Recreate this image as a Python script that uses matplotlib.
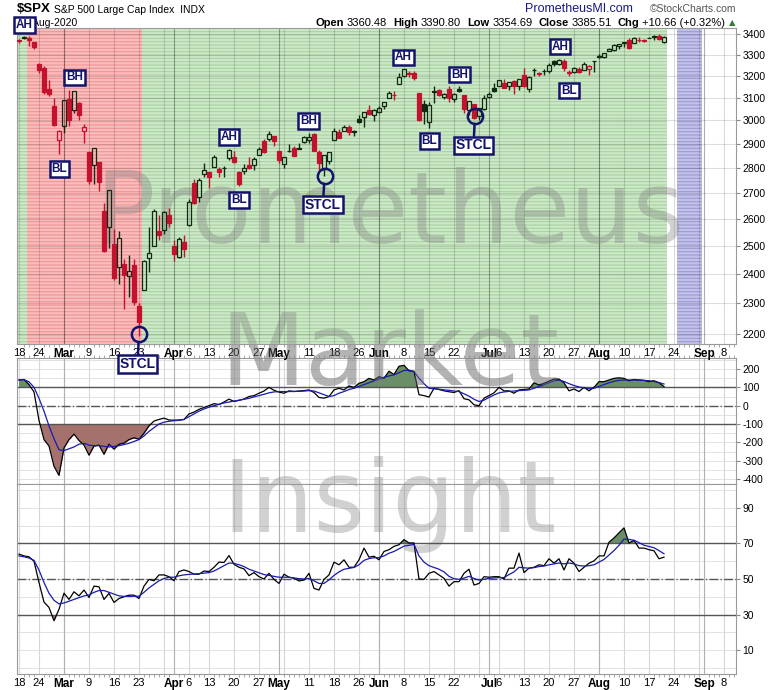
import matplotlib
matplotlib.use('Agg')
import matplotlib.pyplot as plt
import numpy as np

plt.rcParams['font.family'] = ['Liberation Sans', 'DejaVu Sans']
plt.rcParams['hatch.linewidth'] = 0.8
plt.rcParams['axes.unicode_minus'] = False

# S&P 500 daily bars, 18-Feb-2020 .. 20-Aug-2020
opens = [3369.04, 3380.39, 3380.45, 3360.50, 3257.61, 3238.94, 3139.90, 3062.54, 2916.90,
         2974.28, 3096.46, 3045.75, 3075.70, 2954.20, 2863.89, 2813.48, 2825.60, 2630.86, 2569.99, 2508.59,
         2425.66, 2436.50, 2393.48, 2431.94, 2290.71, 2344.44, 2457.77, 2501.29, 2555.87, 2558.98, 2614.69,
         2498.08, 2458.54, 2514.92, 2578.28, 2738.65, 2685.00, 2776.99, 2782.46, 2805.10, 2795.64, 2799.34,
         2842.43, 2845.62, 2784.81, 2787.89, 2810.42, 2812.64, 2854.65, 2909.96, 2918.46, 2930.91,
         2869.09, 2815.01, 2868.88, 2883.14, 2878.26, 2908.83, 2915.46, 2939.50, 2865.86, 2794.54, 2829.95,
         2913.86, 2948.59, 2953.63, 2969.95, 2948.05, 3004.08, 3015.65, 3046.61, 3025.17,
         3038.78, 3064.78, 3098.90, 3111.56, 3163.84, 3199.92, 3213.32, 3213.42, 3123.53, 3071.04, 2993.76,
         3131.00, 3136.13, 3101.64, 3140.29, 3094.42, 3138.70, 3114.40, 3046.60, 3073.20, 3018.59, 3050.20,
         3105.92, 3143.64, 3155.29, 3166.44, 3153.07, 3176.17, 3152.47, 3205.08, 3141.11, 3225.98, 3208.36,
         3224.21, 3224.29, 3268.52, 3254.86, 3271.64, 3218.58, 3219.84, 3234.27, 3227.22, 3231.76, 3270.45,
         3288.26, 3289.92, 3317.37, 3323.17, 3340.05, 3356.04, 3370.34, 3355.46, 3372.95, 3368.66, 3380.86,
         3387.04, 3392.51, 3360.48]
highs = [3375.01, 3393.52, 3389.15, 3360.76, 3259.81, 3246.99, 3182.51, 3097.07, 2959.72,
         3090.96, 3136.72, 3130.97, 3083.04, 2985.93, 2863.89, 2882.59, 2825.60, 2660.95, 2711.33, 2562.98,
         2553.93, 2453.57, 2466.97, 2453.01, 2300.73, 2449.71, 2571.42, 2637.01, 2615.91, 2631.80, 2641.39,
         2522.75, 2533.22, 2538.18, 2676.85, 2756.89, 2760.75, 2818.57, 2782.46, 2851.85, 2801.88, 2806.51,
         2879.22, 2868.98, 2785.54, 2815.10, 2844.90, 2842.71, 2887.72, 2921.15, 2954.86, 2930.91,
         2869.09, 2844.24, 2898.23, 2891.11, 2901.92, 2932.16, 2944.25, 2945.82, 2874.14, 2852.80, 2865.01,
         2968.09, 2964.21, 2980.29, 2978.50, 2956.76, 3021.72, 3036.25, 3068.67, 3049.17,
         3062.18, 3081.07, 3130.94, 3128.91, 3211.72, 3233.13, 3222.71, 3223.27, 3123.53, 3088.42, 3079.76,
         3153.45, 3141.16, 3120.00, 3155.53, 3120.92, 3154.90, 3115.01, 3086.25, 3073.73, 3053.89, 3111.51,
         3128.44, 3165.81, 3182.59, 3184.15, 3171.80, 3179.78, 3186.82, 3235.32, 3200.95, 3238.28, 3220.39,
         3233.52, 3258.61, 3277.29, 3279.32, 3279.99, 3227.26, 3241.43, 3243.72, 3264.74, 3250.92, 3272.17,
         3302.73, 3306.84, 3330.77, 3351.03, 3352.54, 3363.29, 3381.01, 3387.89, 3387.24, 3378.51, 3387.59,
         3395.06, 3399.54, 3390.80]
lows = [3355.61, 3378.83, 3341.02, 3328.45, 3214.65, 3118.77, 3108.99, 2977.39, 2855.84,
        2945.19, 2976.63, 3034.38, 2999.83, 2901.54, 2734.43, 2734.00, 2707.22, 2478.86, 2492.37, 2380.94,
        2367.04, 2280.52, 2319.78, 2295.56, 2191.86, 2344.44, 2407.53, 2500.72, 2520.02, 2545.28, 2571.15,
        2447.49, 2455.79, 2459.96, 2574.57, 2657.67, 2663.30, 2762.36, 2721.17, 2805.10, 2761.54, 2764.32,
        2830.88, 2820.43, 2727.10, 2775.95, 2794.26, 2791.76, 2852.89, 2860.71, 2912.16, 2892.47,
        2821.61, 2797.85, 2863.55, 2847.65, 2876.48, 2902.88, 2903.44, 2869.59, 2793.15, 2766.64, 2816.78,
        2913.86, 2922.35, 2953.63, 2938.57, 2933.59, 2988.17, 2969.75, 3023.40, 2998.61,
        3031.54, 3051.64, 3098.90, 3090.41, 3163.84, 3196.00, 3193.11, 3181.49, 2999.49, 2984.47, 2965.66,
        3076.06, 3108.03, 3093.51, 3083.11, 3079.39, 3127.12, 3032.13, 3024.01, 3004.63, 2999.74, 3047.83,
        3101.17, 3124.52, 3155.29, 3142.93, 3136.53, 3115.70, 3136.22, 3149.43, 3127.66, 3200.76, 3198.59,
        3205.65, 3215.16, 3247.77, 3253.10, 3222.66, 3200.05, 3214.25, 3216.17, 3227.22, 3204.13, 3220.26,
        3284.53, 3286.37, 3317.37, 3318.14, 3328.72, 3335.44, 3326.44, 3355.46, 3363.35, 3361.64, 3379.22,
        3370.15, 3369.66, 3354.69]
closes = [3370.29, 3386.15, 3373.23, 3337.75, 3225.89, 3128.21, 3116.39, 2978.76, 2954.22,
          3090.23, 3003.37, 3130.12, 3023.94, 2972.37, 2746.56, 2882.23, 2741.38, 2480.64, 2711.02, 2386.13,
          2529.19, 2398.10, 2409.39, 2304.92, 2237.40, 2447.33, 2475.56, 2630.07, 2541.47, 2626.65, 2584.59,
          2470.50, 2526.90, 2488.65, 2663.68, 2659.41, 2749.98, 2789.82, 2761.63, 2846.06, 2783.36, 2799.55,
          2874.56, 2823.16, 2736.56, 2799.31, 2797.80, 2836.74, 2878.48, 2863.39, 2939.51, 2912.43,
          2830.71, 2842.74, 2868.44, 2848.42, 2881.19, 2929.80, 2930.32, 2870.12, 2820.00, 2852.50, 2863.70,
          2953.91, 2922.94, 2971.61, 2948.51, 2955.45, 2991.77, 3036.13, 3029.73, 3044.31,
          3055.73, 3080.82, 3122.87, 3112.35, 3193.93, 3232.39, 3207.18, 3190.14, 3002.10, 3041.31, 3066.59,
          3124.74, 3113.49, 3115.34, 3097.74, 3117.86, 3131.29, 3050.33, 3083.76, 3009.05, 3053.24, 3100.29,
          3115.86, 3130.01, 3179.72, 3145.32, 3169.94, 3152.05, 3185.04, 3155.22, 3197.52, 3226.56, 3215.57,
          3224.73, 3251.84, 3257.30, 3276.02, 3235.66, 3215.63, 3239.41, 3218.44, 3258.44, 3246.22, 3271.12,
          3294.61, 3306.51, 3327.77, 3349.16, 3351.28, 3360.47, 3333.69, 3380.35, 3373.43, 3372.85, 3381.99,
          3389.78, 3374.85, 3385.51]
prev_close = 3380.16  # 14-Feb close, colours the first bar

# middle panel (CCI-style oscillator) and its signal line
cci = [140, 143, 115, 75, -80, -185, -220, -330, -380, -230, -185, -155, -190, -215, -270, -220, -215,
       -265, -210, -237, -210, -204, -185, -175, -183, -150, -110, -84, -75, -68, -78, -79, -78, -75, -45,
       -35, -20, -10, 0, 11, 6, 20, 36, 23, 29, 36, 50, 55, 68, 80, 100, 84, 74, 68, 81, 77, 80, 82, 86,
       72, 45, 41, 50, 86, 95, 86, 108, 100, 122, 131, 149, 140, 158, 150, 188, 170, 215, 220, 190, 188,
       60, 55, 47, 95, 88, 81, 76, 72, 82, 38, 32, 5, 0, 41, 55, 70, 100, 81, 81, 68, 86, 88, 91, 125,
       113, 122, 134, 145, 145, 125, 81, 91, 77, 100, 81, 100, 131, 131, 140, 149, 152, 149, 136, 143,
       140, 138, 131, 136, 125, 104]
cci_sig = [140, 142, 130, 100, 40, -30, -110, -180, -240, -245, -235, -225, -210, -205, -215, -218,
           -218, -222, -225, -222, -218, -212, -205, -195, -185, -165, -140, -120, -100, -90, -85, -82,
           -80, -75, -60, -45, -30, -18, -8, 0, 8, 15, 20, 25, 30, 35, 40, 48, 55, 62, 70, 75, 77, 77,
           77, 78, 78, 80, 82, 80, 70, 60, 50, 55, 68, 77, 88, 95, 105, 115, 125, 135, 145, 155, 162,
           168, 180, 192, 194, 185, 150, 120, 95, 92, 90, 86, 84, 80, 77, 65, 52, 35, 23, 30, 45, 58,
           70, 75, 78, 80, 82, 84, 86, 95, 105, 115, 125, 135, 140, 132, 120, 110, 102, 98, 92, 95, 105,
           115, 125, 133, 138, 140, 140, 140, 140, 138, 136, 132, 126, 118]

# bottom panel (RSI-style oscillator) and its signal line
rsi = [64, 63, 62.5, 60, 48, 37, 34, 26.5, 33, 42, 38.5, 42.8, 40.5, 43.8, 39.6, 46, 45.6, 38.5, 41.9,
       36.8, 39, 40, 40.9, 40.9, 39, 46, 49.8, 49, 52.3, 52.3, 51.3, 49, 54.2, 55.1, 54.2, 52.7, 52.7,
       54.5, 54.2, 56.6, 59.5, 59.3, 63.2, 58.3, 56.6, 55.7, 51.9, 53.6, 51.3, 50, 53.2, 49.8, 47.5,
       52.7, 51, 50.4, 48.9, 49.4, 53.2, 44.7, 43.8, 49.8, 52.3, 59.5, 58, 60.8, 56.6, 56.6, 60.8, 67.4,
       62.3, 62.8, 60.8, 65.5, 66.5, 68.4, 69.3, 72.2, 70.3, 70.3, 50, 49.8, 53.2, 54.2, 52.3, 50.4, 46,
       48.5, 48.5, 53.2, 55.5, 46.6, 47.5, 51.3, 51, 51.3, 51.3, 50, 56.1, 56.1, 64.6, 53.6, 56.1, 56.6,
       58, 57.5, 61.4, 58.9, 61.4, 55.1, 61.4, 58.9, 54.2, 56.6, 58.9, 60.2, 63, 63, 70.7, 73.1, 76,
       78.8, 70.3, 71.8, 67.4, 67.4, 66.5, 65.9, 61.4, 62.3]
rsi_sig = [63, 62.5, 61.8, 60.5, 55, 48, 42, 38, 36, 36.5, 37.5, 38.5, 39.5, 40.5, 41, 42.5, 43.5,
           43.5, 42.5, 41.5, 40.5, 40.2, 40.2, 40.3, 40.3, 42.5, 45, 47, 49, 50.3, 51, 51, 51.8, 52.3,
           52.6, 52.8, 53, 53.3, 53.6, 54.5, 56, 57.5, 59, 58.8, 58, 57, 55.5, 54.5, 53.5, 52.5, 52,
           51.5, 51, 51, 51, 50.6, 50.2, 50, 50.3, 49, 47.5, 47.5, 49.5, 52, 54, 55.5, 56, 56.5, 58,
           60.5, 61.5, 62, 62, 63, 64.5, 65.5, 67, 68.5, 69, 69.5, 63, 59.5, 57.5, 56.5, 55.5, 54, 51.5,
           50.2, 49.8, 50.5, 51.5, 50.3, 49.4, 49.8, 50.4, 50.6, 50.8, 50.8, 52.5, 54, 56.6, 56.3, 56.1,
           56.4, 57, 57.3, 58, 58.5, 59, 58.5, 59, 58.5, 57.5, 57.3, 57.5, 58, 59.5, 61, 63.5, 66, 69,
           72.5, 72.3, 71.8, 70.5, 69, 68.3, 67.6, 66, 64.2]

# x axis (trading-day index)
tick_pos = [0, 4, 9, 14, 19, 24, 31, 34, 38, 43, 48, 52, 58, 63, 68, 72, 77, 82, 87, 94, 96, 101,
            106, 111, 116, 121, 126, 131, 137, 141]
tick_lab = ['18', '24', 'Mar', '9', '16', '23', 'Apr', '6', '13', '20', '27', 'May', '11', '18', '26',
            'Jun', '8', '15', '22', 'Jul', '6', '13', '20', '27', 'Aug', '10', '17', '24', 'Sep', '8']
week_pos = [0, 4, 9, 14, 19, 24, 29, 34, 38, 43, 48, 53, 58, 63, 68, 72, 77, 82, 87, 92, 96, 101,
            106, 111, 116, 121, 126, 131, 136, 141]
month_pos = [9, 31, 52, 72, 94, 116, 137]

# chart notes: (label, index, price)
notes = [('AH', 1.1, 3445), ('BH', 11.1, 3194), ('BL', 8.1, 2795), ('AH', 42, 2928), ('BL', 44, 2672),
         ('BH', 57.9, 2997), ('AH', 76.9, 3288), ('BL', 82.1, 2912), ('BH', 88.1, 3206),
         ('AH', 108.2, 3339), ('BL', 110, 3133)]
stcl = [(24, 2199, 2106), (61.1, 2767, 2654), (91.2, 3019, 2893)]

W, H = 780, 690
navy = '#13136b'
red = '#c4122e'
dark = '#0f2a10'


def rect(l, t, r, b):
    return [l / W, 1 - b / H, (r - l) / W, (b - t) / H]


fig = plt.figure(figsize=(7.8, 6.9), dpi=100)
ax = fig.add_axes(rect(17, 28, 736, 344))
ax2 = fig.add_axes(rect(17, 358, 736, 484))
ax3 = fig.add_axes(rect(17, 484, 736, 674))
ax.set_zorder(2)

n = len(closes)
x = np.arange(n)

for a in (ax, ax2, ax3):
    a.set_xlim(-0.4, 143.4)
    for s in a.spines.values():
        s.set_color('#9a9a9a')
        s.set_linewidth(0.8)
    a.yaxis.tick_right()
    a.tick_params(axis='y', length=3, pad=1.5, labelsize=7.5, color='#888888')
    a.set_xticks(tick_pos)
    a.set_xticks(np.arange(0, 144), minor=True)
    a.tick_params(axis='x', which='major', length=0, pad=3, labelsize=8)
    a.tick_params(axis='x', which='minor', length=2, width=0.6, color='#999999')
ax2.tick_params(axis='x', which='minor', top=True)

# main panel: shaded regimes
ax.set_yscale('log')
ax.axvspan(-0.4, 1.5, facecolor='#cde8c8', edgecolor='#a8d2a2', hatch='-----', lw=0, zorder=0.5)
ax.axvspan(1.5, 24.5, facecolor='#fbbcbc', edgecolor='#ee9696', hatch='-----', lw=0, zorder=0.5)
ax.axvspan(24.5, 129.6, facecolor='#cde8c8', edgecolor='#a8d2a2', hatch='-----', lw=0, zorder=0.5)
ax.axvspan(131.6, 136.6, facecolor='#c2c2e8', edgecolor='#9c9cd4', hatch='-----', lw=0, zorder=0.5)

price_ticks = list(range(2200, 3500, 100))
for p in price_ticks:
    ax.axhline(p, color=(0, 0, 0, 0.13), lw=0.8, zorder=1)
for p in week_pos:
    ax.axvline(p, color=(0, 0, 0, 0.14), lw=0.8, zorder=1)
for p in month_pos:
    ax.axvline(p, color=(0, 0, 0, 0.32), lw=0.8, zorder=1)

for i in range(n):
    o, h, l, c = opens[i], highs[i], lows[i], closes[i]
    pc = prev_close if i == 0 else closes[i - 1]
    col = dark if c >= pc else red
    top, bot = max(o, c), min(o, c)
    ax.vlines(i, top, h, color=col, lw=1, zorder=3)
    ax.vlines(i, l, bot, color=col, lw=1, zorder=3)
    face = 'none' if c >= o else col
    ax.bar(i, max(top - bot, 0.5), bottom=bot, width=0.7, facecolor=face, edgecolor=col, lw=0.9, zorder=4)

ax.set_ylim(2168, 3431)
ax.yaxis.set_major_locator(plt.FixedLocator(price_ticks))
ax.yaxis.set_minor_locator(plt.NullLocator())
ax.yaxis.set_major_formatter(plt.FuncFormatter(lambda v, _: f'{v:.0f}'))
ax.set_xticklabels(tick_lab)

box = dict(boxstyle='square,pad=0.15', fc='white', ec=navy, lw=1.8)
for lab, i, p in notes:
    ax.text(i, p, lab, ha='center', va='center', fontsize=8.5, fontweight='bold', color=navy,
            bbox=box, zorder=6, clip_on=False)
for i, pc_, pb in stcl:
    ax.plot(i, pc_, 'o', ms=11, mfc='none', mec=navy, mew=1.8, zorder=6, clip_on=False)
    ax.annotate('STCL', xy=(i, pc_), xytext=(i - 0.3, pb), ha='center', va='center', fontsize=10,
                fontweight='bold', color=navy, annotation_clip=False, zorder=6,
                bbox=dict(boxstyle='square,pad=0.12', fc='white', ec=navy, lw=1.8),
                arrowprops=dict(arrowstyle='-', color=navy, lw=1.8, shrinkA=0, shrinkB=5.5))

# middle panel
cci_a = np.array(cci, dtype=float)
for v in range(-400, 251, 50):
    ax2.axhline(v, color='#e2e2e2', lw=0.7, zorder=0.5)
for p in week_pos:
    ax2.axvline(p, color='#d6d6d6', lw=0.8, zorder=0.6)
for p in month_pos:
    ax2.axvline(p, color='#b0b0b0', lw=0.8, zorder=0.6)
ax2.fill_between(x, cci_a, 100, where=cci_a > 100, interpolate=True, color='#6a8f68', lw=0, zorder=1)
ax2.fill_between(x, cci_a, -100, where=cci_a < -100, interpolate=True, color='#a5716d', lw=0, zorder=1)
ax2.axhline(100, color='#555555', lw=1, zorder=2)
ax2.axhline(-100, color='#555555', lw=1, zorder=2)
ax2.axhline(0, color='#555555', lw=1, ls='-.', zorder=2)
ax2.plot(x, cci_a, color='black', lw=0.9, zorder=3)
ax2.plot(x, cci_sig, color='#1a1ab0', lw=0.9, zorder=4)
ax2.set_ylim(-427, 260)
ax2.set_yticks(range(-400, 201, 100))
ax2.set_xticklabels([])

# bottom panel
rsi_a = np.array(rsi, dtype=float)
for v in range(0, 101, 10):
    ax3.axhline(v, color='#e2e2e2', lw=0.7, zorder=0.5)
for p in week_pos:
    ax3.axvline(p, color='#d6d6d6', lw=0.8, zorder=0.6)
for p in month_pos:
    ax3.axvline(p, color='#b0b0b0', lw=0.8, zorder=0.6)
ax3.fill_between(x, rsi_a, 70, where=rsi_a > 70, interpolate=True, color='#6a8f68', lw=0, zorder=1)
ax3.fill_between(x, rsi_a, 30, where=rsi_a < 30, interpolate=True, color='#a5716d', lw=0, zorder=1)
ax3.axhline(70, color='#555555', lw=1, zorder=2)
ax3.axhline(30, color='#555555', lw=1, zorder=2)
ax3.axhline(50, color='#555555', lw=1, ls='-.', zorder=2)
ax3.plot(x, rsi_a, color='black', lw=0.9, zorder=3)
ax3.plot(x, rsi_sig, color='#1a1ab0', lw=0.9, zorder=4)
ax3.set_ylim(-3.5, 103.5)
ax3.set_yticks([10, 30, 50, 70, 90])
ax3.set_xticklabels(tick_lab)

for a in (ax, ax3):
    for t in a.get_xticklabels():
        if t.get_text() in ('Mar', 'Apr', 'May', 'Jun', 'Jul', 'Aug', 'Sep'):
            t.set_fontweight('bold')
            t.set_fontsize(8.5)

# watermark: above the panel backgrounds, below the price marks
wm = dict(ha='center', va='baseline', fontsize=71, color='#808080', alpha=0.36, family=['DejaVu Sans'],
          transform=fig.transFigure)
ax.text(390 / W, 1 - 243 / H, 'Prometheus', zorder=2, **wm)
ax.text(390 / W, 1 - 385 / H, 'Market', zorder=2, **wm)
ax2.text(390 / W, 1 - 385 / H, 'Market', zorder=0.7, clip_on=False, **wm)
ax3.text(390 / W, 1 - 532 / H, 'Insight', zorder=0.7, clip_on=False, **wm)

# header
fig.text(17 / W, 1 - 9.5 / H, '$SPX', fontsize=9.5, fontweight='bold', va='center', ha='left')
fig.text(54 / W, 1 - 10 / H, 'S&P 500 Large Cap Index  INDX', fontsize=7.5, va='center', ha='left')
fig.text(525 / W, 1 - 9.5 / H, 'PrometheusMI.com', fontsize=9, color='#1a1a80', va='center', ha='left')
fig.text(736 / W, 1 - 9.5 / H, '\u00a9StockCharts.com', fontsize=7.5, color='#555555', va='center',
         ha='right')
fig.text(17 / W, 1 - 23 / H, '20-Aug-2020', fontsize=7.5, va='center', ha='left', zorder=-1)

chg = closes[-1] - closes[-2]
pct = chg / closes[-2] * 100
pieces = [('Open', 'bold'), (f'{opens[-1]:.2f}', 'normal'), ('High', 'bold'),
          (f'{highs[-1]:.2f}', 'normal'), ('Low', 'bold'), (f'{lows[-1]:.2f}', 'normal'),
          ('Close', 'bold'), (f'{closes[-1]:.2f}', 'normal'), ('Chg', 'bold'),
          (f'+{chg:.2f} (+{pct:.2f}%)', 'normal')]
r = fig.canvas.get_renderer()
xr = 735
t = fig.text(xr / W, 1 - 23 / H, '\u25b2', fontsize=6, color='#2e7d32', va='center', ha='right',
             family=['DejaVu Sans'])
xr -= t.get_window_extent(renderer=r).width + 3
for txt, wt in reversed(pieces):
    t = fig.text(xr / W, 1 - 23 / H, txt, fontsize=8, fontweight=wt, va='center', ha='right')
    xr -= t.get_window_extent(renderer=r).width
    xr -= 3 if wt == 'normal' else 6

fig.savefig('out.png', dpi=100)
